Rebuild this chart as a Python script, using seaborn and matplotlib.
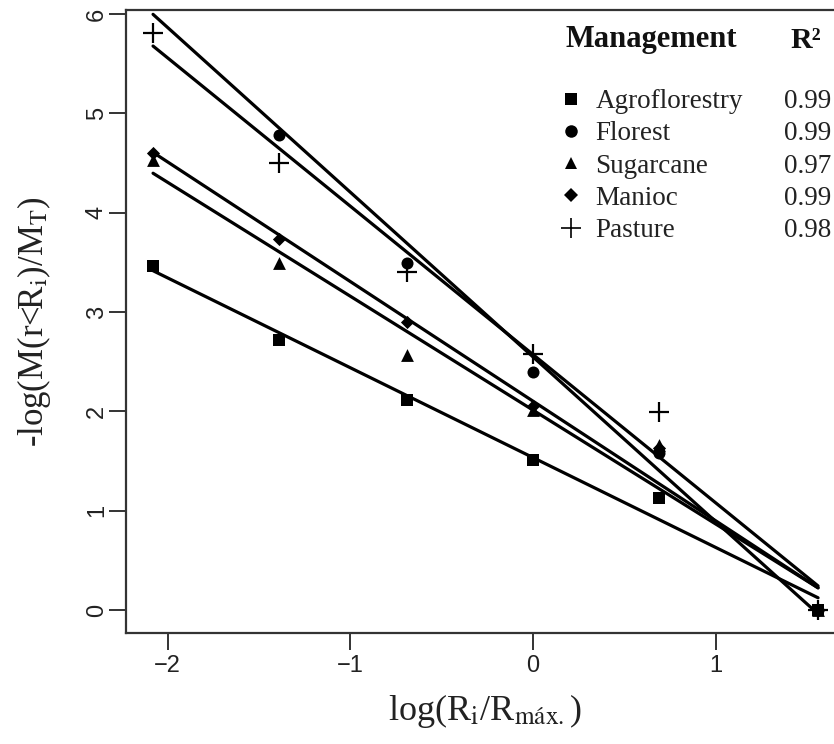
import matplotlib
matplotlib.use("Agg")
import matplotlib.pyplot as plt
from matplotlib.lines import Line2D
import seaborn as sns
import pandas as pd
import numpy as np

# ---- data ----
x_vals = [-2.08, -1.39, -0.69, 0.0, 0.69, 1.56]
agroforestry = [3.46, 2.72, 2.11, 1.51, 1.13, 0.0]
florest = [6.20, 4.78, 3.49, 2.40, 1.58, 0.0]
sugarcane = [4.53, 3.49, 2.57, 2.01, 1.66, 0.0]
manioc = [4.60, 3.73, 2.90, 2.05, 1.63, 0.0]
pasture = [5.81, 4.50, 3.40, 2.58, 1.99, 0.0]
managements = ["Agroflorestry", "Florest", "Sugarcane", "Manioc", "Pasture"]
r2_values = ["0.99", "0.99", "0.97", "0.99", "0.98"]
x_ticks = [-2, -1, 0, 1]
y_ticks = [0, 1, 2, 3, 4, 5, 6]

series = [agroforestry, florest, sugarcane, manioc, pasture]
df = pd.DataFrame({
    "x": np.tile(x_vals, len(series)),
    "y": np.concatenate(series),
    "Management": np.repeat(managements, len(x_vals)),
})

markers = {"Agroflorestry": "s", "Florest": "o", "Sugarcane": "^", "Manioc": "D", "Pasture": "+"}
sizes = {"Agroflorestry": 70, "Florest": 75, "Sugarcane": 85, "Manioc": 45, "Pasture": 200}

sns.set_theme(style="white")
plt.rcParams["mathtext.fontset"] = "stix"
serif = ["Liberation Serif", "DejaVu Serif"]
sans = ["Liberation Sans", "DejaVu Sans"]
plt.rcParams["font.family"] = sans

fig = plt.figure(figsize=(8.34, 7.44), dpi=100)
ax = fig.add_axes([126 / 834, 111 / 744, 718 / 834, 623 / 744])

for name in managements:
    sub = df[df["Management"] == name]
    lw_m = 1.6 if markers[name] == "+" else 0
    sns.regplot(data=sub, x="x", y="y", ax=ax, ci=None, truncate=True,
                marker=markers[name], color="black",
                scatter_kws={"s": sizes[name], "linewidths": lw_m, "alpha": 1},
                line_kws={"lw": 2.3, "color": "black"})

ax.set_xlim(-2.228, 1.702)
ax.set_ylim(-0.232, 6.04)
ax.set_xticks(x_ticks)
ax.set_yticks(y_ticks)
ax.set_xticklabels(["\u22122", "\u22121", "0", "1"])

for s in ax.spines.values():
    s.set_color("#333333")
    s.set_linewidth(1.6)
ax.tick_params(axis="both", direction="out", length=12, width=1.4, color="#333333",
               labelsize=17, labelcolor="#222222", left=True, bottom=True)
ax.tick_params(axis="x", pad=4)
ax.tick_params(axis="y", pad=1)
for lab in ax.get_yticklabels():
    lab.set_rotation(90)
    lab.set_va("center")

ax.set_xlabel(r"log(R$_\mathrm{i}$/R$_\mathrm{máx.}$)", fontsize=26, family=serif,
              color="#222222", labelpad=11)
ax.set_ylabel(r"-log(M(r<R$_\mathrm{i}$)/M$_\mathrm{T}$)", fontsize=25, family=serif,
              color="#222222", labelpad=24)

# legend
handles = []
for name in managements:
    m = markers[name]
    handles.append(Line2D([], [], linestyle="none", marker=m, color="black",
                          markersize=(15 if m == "+" else 9 if m != "D" else 7.5),
                          markeredgewidth=(1.2 if m == "+" else 0)))
leg = ax.legend(handles, managements, loc="upper left",
                bbox_to_anchor=((559 - 126) / 718, (633 - 89) / 623),
                frameon=False, prop={"family": serif, "size": 19.5},
                handletextpad=0.45, labelspacing=0.27, handlelength=0.9,
                borderpad=0, borderaxespad=0)
for t in leg.get_texts():
    t.set_color("#222222")

ax.text((565 - 126) / 718, (633 - 40) / 623, "Management", transform=ax.transAxes,
        family=serif, fontsize=22, fontweight="bold", va="center", ha="left", color="#111111")
ax.text((806 - 126) / 718, (633 - 40) / 623, "R\u00b2", transform=ax.transAxes,
        family=serif, fontsize=21.5, fontweight="bold", va="center", ha="center", color="#111111")

fig.canvas.draw()
inv = ax.transAxes.inverted()
for t, r2 in zip(leg.get_texts(), r2_values):
    bb = t.get_window_extent()
    yc = (bb.y0 + bb.y1) / 2
    _, ya = inv.transform((0, yc))
    ax.text((831 - 126) / 718, ya, r2, transform=ax.transAxes, family=serif,
            fontsize=19.5, ha="right", va="center", color="#222222")

fig.savefig("out.png", dpi=100)
